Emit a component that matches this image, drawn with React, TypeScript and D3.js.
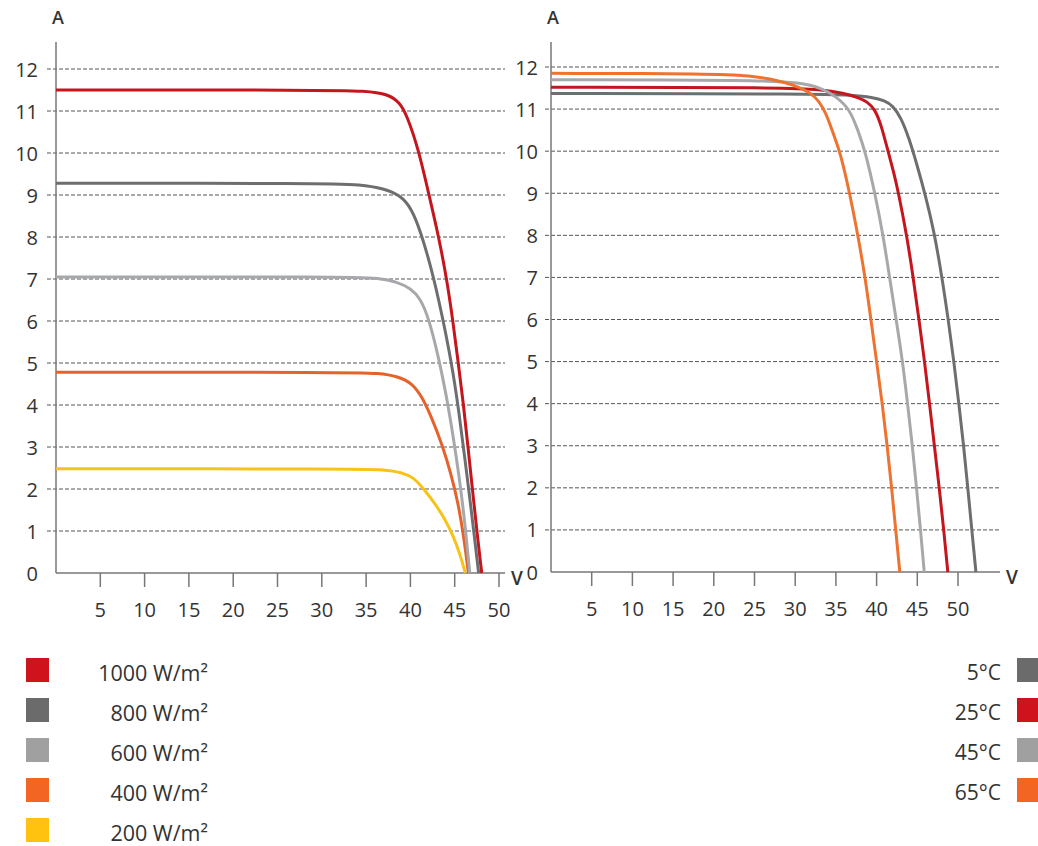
import React from 'react';
import * as d3 from 'd3';

// I-V curves: [voltage V, current A]
const irradianceLabels = ['1000 W/m²', '800 W/m²', '600 W/m²', '400 W/m²', '200 W/m²'];
const irradianceColors = ['#c5161d', '#6d6e70', '#a6a8ab', '#e5622a', '#f7c21a'];
const legendIrrColors = ['#d0121c', '#6b6b6b', '#a0a0a0', '#f26522', '#ffc20e'];

const curve1000: [number, number][] = [
  [0, 11.5], [30, 11.5], [35, 11.48], [37.5, 11.4], [38.8, 11.2], [39.6, 10.9], [40.9, 10.1], [42.1, 9],
  [43.2, 8], [44.1, 7], [44.8, 6], [45.4, 5], [46, 4], [46.5, 3], [47, 2], [47.5, 1], [48.05, 0],
];
const curve800: [number, number][] = [
  [0, 9.28], [30, 9.28], [34.5, 9.25], [37, 9.15], [38.8, 9.0], [40.1, 8.7], [41.2, 8.1], [42.3, 7.3],
  [43.2, 6.5], [44, 5.7], [44.8, 4.8], [45.5, 3.8], [46.1, 2.8], [46.7, 1.8], [47.2, 0.9], [47.7, 0],
];
const curve600: [number, number][] = [
  [0, 7.05], [33, 7.05], [36.5, 7.02], [38.5, 6.93], [40, 6.78], [41.1, 6.55], [42.1, 6.05], [43.1, 5.2],
  [44, 4.3], [44.8, 3.3], [45.5, 2.3], [46.1, 1.3], [46.7, 0],
];
const curve400: [number, number][] = [
  [0, 4.78], [33, 4.78], [36.5, 4.76], [38.6, 4.68], [40.2, 4.52], [41.3, 4.2], [42.4, 3.7], [43.6, 3.05],
  [44.6, 2.35], [45.4, 1.65], [46, 0.9], [46.55, 0],
];
const curve200: [number, number][] = [
  [0, 2.48], [34, 2.48], [37, 2.46], [39, 2.4], [40.4, 2.27], [41.5, 2.0], [42.8, 1.65], [43.9, 1.28],
  [44.8, 0.9], [45.6, 0.45], [46.2, 0],
];
const irradianceCurves = [curve1000, curve800, curve600, curve400, curve200];

const tempLabels = ['5°C', '25°C', '45°C', '65°C'];
const tempColors = ['#6d6e70', '#c5161d', '#a6a8ab', '#ee7330'];
const legendTempColors = ['#6b6b6b', '#d0121c', '#a0a0a0', '#f26522'];

const curve5C: [number, number][] = [
  [0, 11.37], [33, 11.36], [37, 11.33], [39.5, 11.28], [41, 11.2], [42, 11.08], [43, 10.8], [44, 10.3],
  [45, 9.65], [46, 8.95], [47, 8.15], [48, 7.05], [48.8, 6], [49.5, 5], [50.1, 4], [50.7, 3],
  [51.2, 2], [51.7, 1], [52.2, 0],
];
const curve25C: [number, number][] = [
  [0, 11.52], [29, 11.51], [33, 11.47], [36, 11.38], [37.8, 11.27], [38.8, 11.18], [39.8, 11.0], [40.6, 10.6],
  [41.4, 10.0], [42.1, 9.5], [42.7, 9.0], [43.7, 8.0], [44.5, 7.0], [45.2, 6.0], [45.9, 5.0], [46.5, 4.0],
  [47.1, 3], [47.7, 2], [48.25, 1], [48.75, 0],
];
const curve45C: [number, number][] = [
  [0, 11.7], [26, 11.69], [30.5, 11.63], [33.3, 11.5], [35, 11.3], [36.7, 11.0], [37.7, 10.5], [38.6, 10.0],
  [39.8, 9.0], [40.8, 8.0], [41.6, 7.0], [42.4, 6.0], [43.2, 5.0], [43.8, 4.0], [44.4, 3.0], [44.9, 2.0],
  [45.4, 1.0], [45.85, 0],
];
const curve65C: [number, number][] = [
  [0, 11.85], [20, 11.84], [24.5, 11.79], [27.5, 11.7], [30, 11.56], [31.8, 11.4], [32.9, 11.2], [33.8, 10.9],
  [34.7, 10.4], [35.5, 10.0], [36.7, 9.0], [37.7, 8.0], [38.6, 7.0], [39.3, 6.0], [40, 5], [40.7, 4],
  [41.3, 3], [41.85, 2], [42.35, 1], [42.85, 0],
];
const tempCurves = [curve5C, curve25C, curve45C, curve65C];

const yTicks = d3.range(0, 13);
const xTicks = [5, 10, 15, 20, 25, 30, 35, 40, 45, 50];

const FONT = '"Open Sans", sans-serif';
const TEXT = '#333';

type PanelProps = {
  x0: number; x50: number; y0: number; y12: number;
  gridLeft: number; gridRight: number; axisTop: number; labelX: number;
  curves: [number, number][][]; colors: string[];
};

const Panel: React.FC<PanelProps> = ({ x0, x50, y0, y12, gridLeft, gridRight, axisTop, labelX, curves, colors }) => {
  const x = d3.scaleLinear().domain([0, 50]).range([x0, x50]);
  const y = d3.scaleLinear().domain([0, 12]).range([y0, y12]);
  const line = d3.line<[number, number]>()
    .x(d => x(d[0]))
    .y(d => y(d[1]))
    .curve(d3.curveBasis);

  return (
    <g>
      {/* dashed grid */}
      {yTicks.filter(t => t > 0).map(t => (
        <line key={'g' + t} x1={gridLeft} x2={gridRight} y1={y(t)} y2={y(t)}
          stroke="#555" strokeWidth={1} strokeDasharray="4,2" />
      ))}
      {yTicks.map(t => (
        <text key={'yl' + t} x={labelX} y={y(t)} textAnchor="end" dominantBaseline="central"
          fontFamily={FONT} fontSize={20} fill={TEXT}>{t}</text>
      ))}
      {/* axes */}
      <line x1={x0} x2={x0} y1={axisTop} y2={y0} stroke="#777" strokeWidth={1.5} />
      <line x1={x0} x2={gridRight} y1={y0} y2={y0} stroke="#777" strokeWidth={1.5} />
      {xTicks.map(t => (
        <g key={'xt' + t}>
          <line x1={x(t)} x2={x(t)} y1={y0} y2={y0 + 14} stroke="#777" strokeWidth={1.5} />
          <text x={x(t)} y={y0 + 36} textAnchor="middle" dominantBaseline="central"
            fontFamily={FONT} fontSize={20} fill={TEXT}>{t}</text>
        </g>
      ))}
      <text x={x0 + 2} y={17} textAnchor="middle" dominantBaseline="central"
        fontFamily={FONT} fontSize={18} fontWeight={600} fill={TEXT}>A</text>
      <text x={gridRight + 12} y={y0 + 5} textAnchor="middle" dominantBaseline="central"
        fontFamily={FONT} fontSize={19} fontWeight={600} fill={TEXT}>V</text>
      {curves.map((c, i) => (
        <path key={'c' + i} d={line(c) ?? ''} fill="none" stroke={colors[i]} strokeWidth={3} />
      )).reverse()}
    </g>
  );
};

export default function App() {
  return (
    <svg width={1038} height={846} style={{ position: 'absolute', left: 0, top: 0, background: '#fff' }}>
      <Panel x0={56} x50={499} y0={573} y12={69} gridLeft={47} gridRight={505} axisTop={42} labelX={38}
        curves={irradianceCurves} colors={irradianceColors} />
      <Panel x0={551} x50={958} y0={572} y12={67} gridLeft={545} gridRight={1000} axisTop={42} labelX={538}
        curves={tempCurves.slice().reverse()} colors={tempColors.slice().reverse()} />

      {/* irradiance legend */}
      {irradianceLabels.map((label, i) => (
        <g key={'li' + i} transform={`translate(26, ${658 + i * 40})`}>
          <rect width={23} height={24} fill={legendIrrColors[i]} />
          <text x={182} y={14} textAnchor="end" dominantBaseline="central"
            fontFamily={FONT} fontSize={21.5} fill={TEXT}>{label}</text>
        </g>
      ))}

      {/* temperature legend */}
      {tempLabels.map((label, i) => (
        <g key={'lt' + i} transform={`translate(1017, ${658 + i * 40})`}>
          <rect width={23} height={24} fill={legendTempColors[i]} />
          <text x={-16} y={14} textAnchor="end" dominantBaseline="central"
            fontFamily={FONT} fontSize={21} fill={TEXT}>{label}</text>
        </g>
      ))}
    </svg>
  );
}
